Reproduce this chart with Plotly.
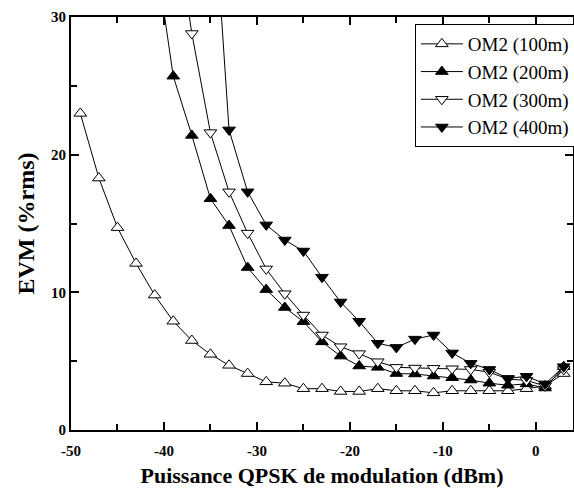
import plotly.graph_objects as go

power_dbm = [-49, -47, -45, -43, -41, -39, -37, -35, -33, -31, -29, -27, -25, -23,
             -21, -19, -17, -15, -13, -11, -9, -7, -5, -3, -1, 1, 3]

evm_100m = [23.0, 18.3, 14.7, 12.1, 9.8, 7.9, 6.5, 5.5, 4.7, 4.1, 3.5, 3.4, 3.0, 3.0,
            2.8, 2.8, 3.0, 2.85, 2.85, 2.7, 2.85, 2.85, 2.85, 2.85, 3.0, 3.2, 4.1]

power_200m = [-41, -39, -37, -35, -33, -31, -29, -27, -25, -23, -21, -19, -17, -15,
              -13, -11, -9, -7, -5, -3, -1, 1, 3]
evm_200m = [35.0, 25.7, 21.4, 16.8, 14.85, 11.8, 10.2, 8.9, 7.87, 6.4, 5.37, 4.65, 4.55, 4.1,
            4.07, 3.92, 3.8, 3.63, 3.4, 3.25, 3.35, 3.05, 4.6]

power_300m = [-39, -37, -35, -33, -31, -29, -27, -25, -23, -21, -19, -17, -15,
              -13, -11, -9, -7, -5, -3, -1, 1, 3]
evm_300m = [38.0, 28.8, 21.6, 17.3, 14.3, 11.7, 9.9, 8.35, 6.9, 6.05, 5.55, 4.96, 4.55,
            4.5, 4.48, 4.45, 4.4, 4.2, 3.7, 3.6, 3.2, 4.4]

power_400m = [-35, -33, -31, -29, -27, -25, -23, -21, -19, -17, -15,
              -13, -11, -9, -7, -5, -3, -1, 1, 3]
evm_400m = [42.0, 21.8, 17.3, 14.9, 13.8, 13.0, 11.1, 9.3, 7.9, 6.3, 6.0,
            6.6, 6.9, 5.6, 4.84, 4.4, 3.75, 3.9, 3.35, 4.6]

series_names = ["OM2 (100m)", "OM2 (200m)", "OM2 (300m)", "OM2 (400m)"]

x_tick_vals = [-50, -40, -30, -20, -10, 0]
x_tick_text = ["-50", "-40", "-30", "-20", "-10", "0"]
y_tick_vals = [0, 10, 20, 30]
y_tick_text = ["0", "10", "20", "30"]

FONT = "Liberation Serif, Times New Roman, serif"

fig = go.Figure()

styles = [
    ("triangle-up", "white"),
    ("triangle-up", "black"),
    ("triangle-down", "white"),
    ("triangle-down", "black"),
]
data = [(power_dbm, evm_100m), (power_200m, evm_200m), (power_300m, evm_300m), (power_400m, evm_400m)]

for (xs, ys), name, (sym, fill) in zip(data, series_names, styles):
    fig.add_trace(go.Scatter(
        x=xs, y=ys, name=name, mode="lines+markers",
        line=dict(color="black", width=1),
        marker=dict(symbol=sym, size=11, color=fill, line=dict(color="black", width=1)),
    ))

axis_common = dict(
    showline=True, linecolor="black", linewidth=2, mirror="ticks",
    ticks="inside", ticklen=8, tickwidth=1.5, tickcolor="black",
    showgrid=False, zeroline=False,
    tickfont=dict(family=FONT, size=15, color="black", weight="bold"),
    minor=dict(ticks="inside", ticklen=6, tickwidth=1.5, tickcolor="black", dtick=5, showgrid=False),
)

fig.update_xaxes(
    range=[-50, 4], tickvals=x_tick_vals, ticktext=x_tick_text, ticklabelstandoff=6,
    title=dict(text="Puissance QPSK de modulation (dBm)",
               font=dict(family=FONT, size=22, color="black", weight="bold"), standoff=12),
    **axis_common,
)
fig.update_yaxes(
    range=[0, 30], tickvals=y_tick_vals, ticktext=y_tick_text,
    title=dict(text="EVM (%rms)",
               font=dict(family=FONT, size=24, color="black", weight="bold"), standoff=10),
    **axis_common,
)

fig.update_layout(
    width=574, height=488,
    margin=dict(l=71, r=1, t=17, b=58, autoexpand=False),
    plot_bgcolor="white", paper_bgcolor="white",
    font=dict(family=FONT, color="black"),
    legend=dict(
        x=0.685, y=0.983, xanchor="left", yanchor="top",
        bordercolor="black", borderwidth=1, bgcolor="white",
        font=dict(family=FONT, size=19, color="black"),
        tracegroupgap=0, itemwidth=42,
    ),
)

fig.write_html("out.html", config={"displayModeBar": False},
               post_script="document.body.style.margin='0';document.body.style.overflow='hidden';")
